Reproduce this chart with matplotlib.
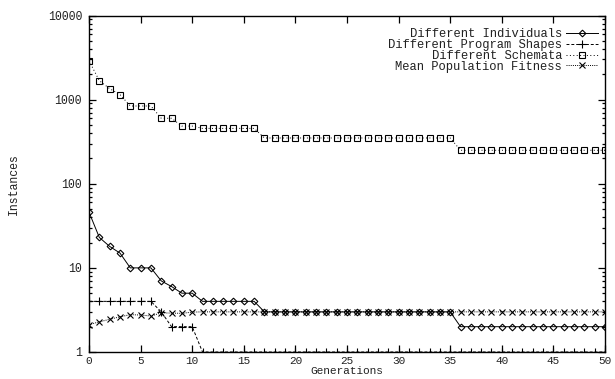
import matplotlib
matplotlib.use("Agg")
import matplotlib.pyplot as plt
from matplotlib.ticker import LogLocator, NullFormatter, FixedLocator

plt.rcParams['font.family'] = ['Liberation Mono', 'DejaVu Sans Mono']

generations = list(range(0, 51))

individuals = [46, 23, 18, 15, 10, 10, 10, 7, 6, 5, 5,
               4, 4, 4, 4, 4, 4] + [3] * 19 + [2] * 15

program_shapes = [4, 4, 4, 4, 4, 4, 4, 3, 2, 2, 2] + [1] * 40

schemata = [2900, 1680, 1350, 1150, 840, 840, 840, 600, 600, 485, 485,
            455, 455, 455, 455, 455, 455] + [350] * 19 + [250] * 15

fitness = [2.12, 2.28, 2.45, 2.62, 2.78, 2.75, 2.68, 2.92, 2.9, 2.88, 2.98] + [3.0] * 40

labels = ["Different Individuals", "Different Program Shapes",
          "Different Schemata", "Mean Population Fitness"]

fig = plt.figure(figsize=(6.15, 3.79), dpi=100)
ax = fig.add_axes([89 / 615, 1 - 352 / 379, (605 - 89) / 615, (352 - 15.5) / 379])

lw = 0.7
ax.plot(generations, individuals, color='black', lw=lw, ls='-', marker='D',
        markersize=3.4, markerfacecolor='none', markeredgewidth=0.8, label=labels[0])
ax.plot(generations, program_shapes, color='black', lw=lw, ls=(0, (3, 2)), marker='+',
        markersize=5.5, markeredgewidth=0.8, label=labels[1])
ax.plot(generations, schemata, color='black', lw=lw, ls=(0, (1, 2.5)), marker='s',
        markersize=4.3, markerfacecolor='none', markeredgewidth=0.8, label=labels[2])
ax.plot(generations, fitness, color='black', lw=lw, ls=(0, (1, 1.2)), marker='x',
        markersize=4.2, markeredgewidth=0.8, label=labels[3])

ax.set_yscale('log')
ax.set_xlim(0, 50)
ax.set_ylim(1, 10000)
ax.xaxis.set_major_locator(FixedLocator(range(0, 51, 5)))
ax.yaxis.set_major_locator(FixedLocator([1, 10, 100, 1000, 10000]))
ax.yaxis.set_minor_locator(LogLocator(base=10, subs=range(2, 10), numticks=20))
ax.yaxis.set_minor_formatter(NullFormatter())
ax.set_yticklabels(['1', '10', '100', '1000', '10000'])

fs = 8.3
tc = '#222222'
ax.tick_params(axis='both', which='both', direction='in', top=True, right=True,
               labelsize=fs, width=0.9, labelcolor=tc)
ax.tick_params(axis='both', which='major', length=5, pad=5)
ax.tick_params(axis='x', which='major', pad=3, labelsize=8)
ax.tick_params(axis='both', which='minor', length=2.5)
for s in ax.spines.values():
    s.set_linewidth(1.0)

ax.set_xlabel('Generations', fontsize=8, labelpad=0, color=tc)
ax.set_ylabel('Instances', fontsize=fs, labelpad=20, color=tc)

leg = ax.legend(loc='upper right', bbox_to_anchor=(1.0, 1.0 - 5.5 / 336.5),
                markerfirst=False, frameon=False, fontsize=8.7,
                handlelength=2.6, handletextpad=0.35, labelspacing=-0.1,
                borderaxespad=0.3, borderpad=0.3)
for t in leg.get_texts():
    t.set_color(tc)

fig.savefig('out.png', dpi=100)
